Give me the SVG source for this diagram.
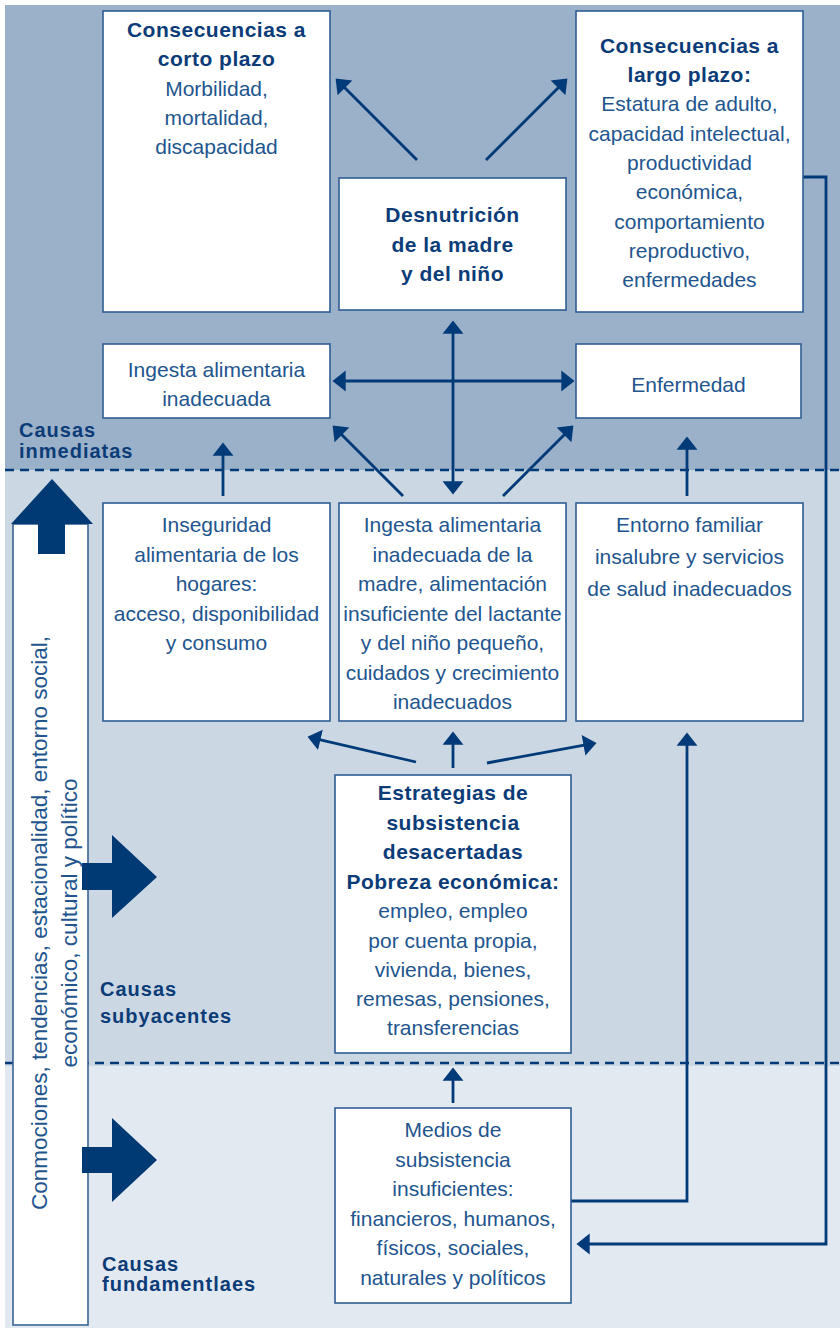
<svg xmlns="http://www.w3.org/2000/svg" width="840" height="1328" viewBox="0 0 840 1328">
<defs>
<style>
.box{fill:#ffffff;stroke:#2d5d93;stroke-width:1.6}
.t{font-family:"Liberation Sans",Arial,Helvetica,sans-serif;font-size:21px;fill:#22558e;text-anchor:middle}
.b{font-family:"Liberation Sans",Arial,Helvetica,sans-serif;font-size:21px;font-weight:bold;fill:#0b3c78;text-anchor:middle;letter-spacing:0.5px}
.sec{font-family:"Liberation Sans",Arial,Helvetica,sans-serif;font-size:20px;font-weight:bold;fill:#0b3c78;letter-spacing:1px}
.rot{font-family:"Liberation Sans",Arial,Helvetica,sans-serif;font-size:22.5px;fill:#22558e;text-anchor:middle}
.c{fill:none;stroke:#003a78;stroke-width:2.8}
.ca{fill:none;stroke:#003a78;stroke-width:2.8;marker-end:url(#ah)}
.cd{fill:none;stroke:#003a78;stroke-width:2.8;marker-start:url(#ah);marker-end:url(#ah)}
.dash{stroke:#003a78;stroke-width:2.6;stroke-dasharray:9 6;fill:none}
.big{fill:#003a75}
</style>
<marker id="ah" markerUnits="userSpaceOnUse" markerWidth="16" markerHeight="22" viewBox="0 -10 14 20" refX="7" refY="0" orient="auto-start-reverse">
<path d="M0,-9.5 L12,0 L0,9.5 z" fill="#003a78"/>
</marker>
</defs>

<g id="background">
<rect x="5" y="5" width="835" height="466" fill="#9bb1c9"/>
<rect x="5" y="470" width="835" height="596" fill="#cbd7e3"/>
<rect x="5" y="1066" width="835" height="262" fill="#e3e9f1"/>
<line class="dash" x1="5" y1="470" x2="840" y2="470"/>
<line class="dash" x1="5" y1="1063" x2="840" y2="1063"/>
</g>

<g id="side-bar">
<rect x="13" y="524" width="75" height="801" fill="#ffffff" stroke="#3a6494" stroke-width="1.6"/>
<polygon class="big" points="11,524 52,479 93,524"/>
<rect class="big" x="38" y="522" width="27" height="32"/>
<polygon class="big" points="82,863 112,863 112,835 157,877 112,918 112,890 82,890"/>
<polygon class="big" points="82,1147 112,1147 112,1118 157,1160 112,1202 112,1173 82,1173"/>
<text class="rot" transform="translate(47,923) rotate(-90)">Conmociones, tendencias, estacionalidad, entorno social,</text>
<text class="rot" transform="translate(77,923) rotate(-90)">económico, cultural y político</text>
</g>

<g id="section-labels">
<text class="sec" x="19" y="437">Causas</text>
<text class="sec" x="19" y="458">inmediatas</text>
<text class="sec" x="100" y="996">Causas</text>
<text class="sec" x="100" y="1023">subyacentes</text>
<text class="sec" x="102" y="1271">Causas</text>
<text class="sec" x="102" y="1291">fundamentlaes</text>
</g>

<g id="connectors">
<line class="ca" x1="417" y1="160" x2="339.5" y2="82.5"/>
<line class="ca" x1="486" y1="160" x2="563.5" y2="82.5"/>
<line class="cd" x1="453" y1="326" x2="453" y2="489"/>
<line class="cd" x1="338" y1="381" x2="569" y2="381"/>
<line class="ca" x1="403" y1="496" x2="336.5" y2="429.5"/>
<line class="ca" x1="503" y1="496" x2="569.5" y2="429.5"/>
<line class="ca" x1="223" y1="496" x2="223" y2="448"/>
<line class="ca" x1="687" y1="496" x2="687" y2="442"/>
<line class="ca" x1="416" y1="762" x2="312.9" y2="738.1"/>
<line class="ca" x1="453" y1="768" x2="453" y2="737"/>
<line class="ca" x1="487" y1="763" x2="591.1" y2="743.9"/>
<line class="ca" x1="453" y1="1103" x2="453" y2="1073"/>
<polyline class="ca" points="571,1201 687,1201 687,738"/>
<polyline class="ca" points="803,177 826,177 826,1244 582,1244"/>
</g>

<g id="corto-plazo">
<rect class="box" x="103" y="11" width="227" height="301"/>
<text class="b" x="216.5" y="37">Consecuencias a</text>
<text class="b" x="216.5" y="66.3">corto plazo</text>
<text class="t" x="216.5" y="95.6">Morbilidad,</text>
<text class="t" x="216.5" y="124.9">mortalidad,</text>
<text class="t" x="216.5" y="154.2">discapacidad</text>
</g>

<g id="desnutricion">
<rect class="box" x="339" y="178" width="227" height="132"/>
<text class="b" x="452.5" y="222">Desnutrición</text>
<text class="b" x="452.5" y="251.5">de la madre</text>
<text class="b" x="452.5" y="281">y del niño</text>
</g>

<g id="largo-plazo">
<rect class="box" x="576" y="11" width="227" height="301"/>
<text class="b" x="689.5" y="52.7">Consecuencias a</text>
<text class="b" x="689.5" y="82">largo plazo:</text>
<text class="t" x="689.5" y="111.3">Estatura de adulto,</text>
<text class="t" x="689.5" y="140.6">capacidad intelectual,</text>
<text class="t" x="689.5" y="169.9">productividad</text>
<text class="t" x="689.5" y="199.2">económica,</text>
<text class="t" x="689.5" y="228.5">comportamiento</text>
<text class="t" x="689.5" y="257.8">reproductivo,</text>
<text class="t" x="689.5" y="287.1">enfermedades</text>
</g>

<g id="ingesta-inadecuada">
<rect class="box" x="103" y="344" width="227" height="74"/>
<text class="t" x="216.5" y="377">Ingesta alimentaria</text>
<text class="t" x="216.5" y="406">inadecuada</text>
</g>

<g id="enfermedad">
<rect class="box" x="576" y="344" width="225" height="74"/>
<text class="t" x="688.5" y="392">Enfermedad</text>
</g>

<g id="inseguridad">
<rect class="box" x="103" y="503" width="227" height="218"/>
<text class="t" x="216.5" y="532">Inseguridad</text>
<text class="t" x="216.5" y="561.5">alimentaria de los</text>
<text class="t" x="216.5" y="591">hogares:</text>
<text class="t" x="216.5" y="620.5">acceso, disponibilidad</text>
<text class="t" x="216.5" y="650">y consumo</text>
</g>

<g id="ingesta-madre">
<rect class="box" x="339" y="503" width="227" height="218"/>
<text class="t" x="452.5" y="532">Ingesta alimentaria</text>
<text class="t" x="452.5" y="561.5">inadecuada de la</text>
<text class="t" x="452.5" y="591">madre, alimentación</text>
<text class="t" x="452.5" y="620.5">insuficiente del lactante</text>
<text class="t" x="452.5" y="650">y del niño pequeño,</text>
<text class="t" x="452.5" y="679.5">cuidados y crecimiento</text>
<text class="t" x="452.5" y="709">inadecuados</text>
</g>

<g id="entorno">
<rect class="box" x="576" y="503" width="227" height="218"/>
<text class="t" x="689.5" y="532">Entorno familiar</text>
<text class="t" x="689.5" y="564">insalubre y servicios</text>
<text class="t" x="689.5" y="596">de salud inadecuados</text>
</g>

<g id="estrategias">
<rect class="box" x="335" y="775" width="236" height="278"/>
<text class="b" x="453" y="800">Estrategias de</text>
<text class="b" x="453" y="829.5">subsistencia</text>
<text class="b" x="453" y="859">desacertadas</text>
<text class="b" x="453" y="888.5">Pobreza económica:</text>
<text class="t" x="453" y="918">empleo, empleo</text>
<text class="t" x="453" y="947.5">por cuenta propia,</text>
<text class="t" x="453" y="977">vivienda, bienes,</text>
<text class="t" x="453" y="1006">remesas, pensiones,</text>
<text class="t" x="453" y="1035">transferencias</text>
</g>

<g id="medios">
<rect class="box" x="335" y="1108" width="236" height="195"/>
<text class="t" x="453" y="1137">Medios de</text>
<text class="t" x="453" y="1166.5">subsistencia</text>
<text class="t" x="453" y="1196">insuficientes:</text>
<text class="t" x="453" y="1225.5">financieros, humanos,</text>
<text class="t" x="453" y="1255">físicos, sociales,</text>
<text class="t" x="453" y="1284.5">naturales y políticos</text>
</g>
</svg>
